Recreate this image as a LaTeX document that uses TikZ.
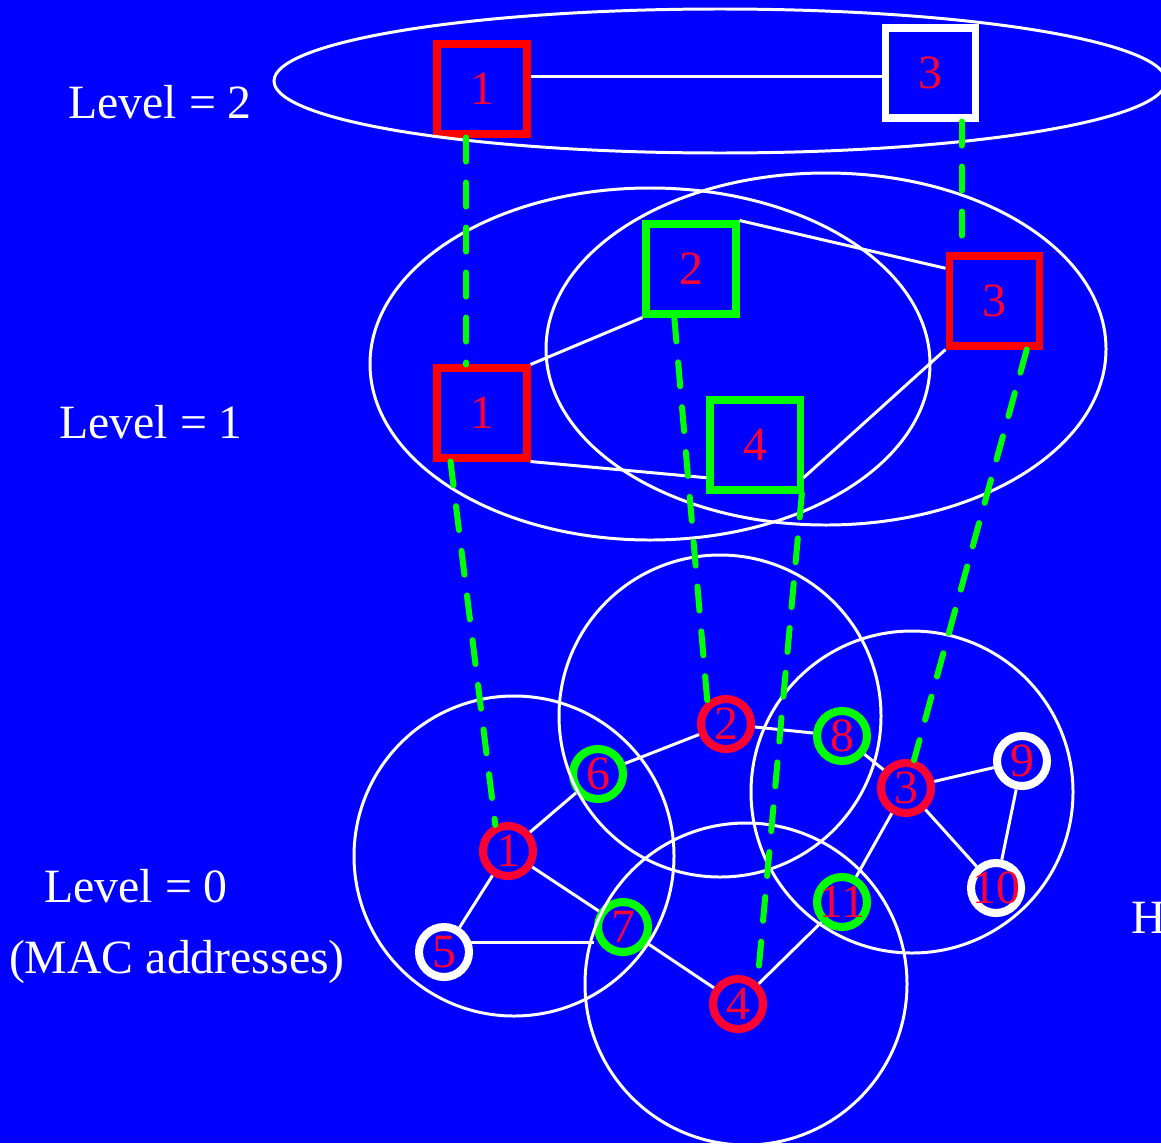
\documentclass[tikz,border=0pt]{standalone}
\usepackage{fontspec}
\setmainfont{Liberation Serif}
\definecolor{fond}{RGB}{0,0,255}
\definecolor{cramoisi}{RGB}{255,0,51}
\definecolor{vert}{RGB}{0,255,0}

\begin{document}
\begin{tikzpicture}[
	boite/.style={draw=#1,line width=2pt,minimum width=0.9cm,minimum height=0.9cm,inner sep=0pt,text=cramoisi,font=\fontsize{13.6}{16}\selectfont},
	rond/.style={circle,draw=#1,line width=2.3pt,minimum size=0.5cm,inner sep=0pt,text=cramoisi,font=\fontsize{13.6}{16}\selectfont},
	texte/.style={text=white,font=\fontsize{13.6}{16}\selectfont},
	lien/.style={draw=white,line width=0.85pt},
	zone/.style={draw=white,line width=0.85pt},
	tiret/.style={draw=vert,line width=1.7pt,line cap=round,dash pattern=on 0.24cm off 0.21cm}]
	%
	% Fond et cadre
	\def\cadreX{11.61}
	\def\cadreY{-11.43}
	\fill[fond] (0,0) rectangle (\cadreX,\cadreY);
	\useasboundingbox (0,0) rectangle (\cadreX,\cadreY);
	%
	% Niveau 2
	\node[boite=red] (l2a) at (4.82,-0.89) {1};
	\node[boite=white] (l2b) at (9.30,-0.73) {3};
	\draw[zone] (7.20,-0.81) ellipse (4.46 and 0.72);
	\draw[lien] (l2a.east |- l2b.184) -- (l2b.184);
	%
	% Niveau 1
	\node[boite=red] (l1a) at (4.82,-4.13) {1};
	\node[boite=vert] (l1b) at (6.91,-2.69) {2};
	\node[boite=red] (l1c) at (9.94,-3.01) {3};
	\node[boite=vert] (l1d) at (7.55,-4.45) {4};
	\draw[zone] (6.50,-3.64) ellipse (2.80 and 1.76);
	\draw[zone] (8.26,-3.49) ellipse (2.80 and 1.76);
	\draw[lien] (l1a.north east) -- (l1b.south west);
	\draw[lien] (l1b.north east) -- (l1c.146);
	\draw[lien] (l1a.south east) -- (l1d.214);
	\draw[lien] (l1c.south west) -- (l1d.326);
	%
	% Niveau 0 (adresses MAC)
	\node[rond=cramoisi] (c1) at (5.08,-8.51) {1};
	\node[rond=cramoisi] (c2) at (7.26,-7.24) {2};
	\node[rond=cramoisi] (c3) at (9.06,-7.88) {3};
	\node[rond=cramoisi] (c4) at (7.38,-10.04) {4};
	\node[rond=white] (c5) at (4.44,-9.52) {5};
	\node[rond=vert] (c6) at (5.98,-7.74) {6};
	\node[rond=vert] (c7) at (6.23,-9.27) {7};
	\node[rond=vert] (c8) at (8.42,-7.36) {8};
	\node[rond=white] (c9) at (10.22,-7.61) {9};
	\node[rond=white] (c10) at (9.96,-8.88) {\makebox[0pt]{10}};
	\node[rond=vert] (c11) at (8.42,-9.02) {\makebox[0pt]{11}};
	\draw[zone] (5.14,-8.56) circle (1.60);
	\draw[zone] (7.20,-7.16) circle (1.61);
	\draw[zone] (9.12,-7.92) circle (1.61);
	\draw[zone] (7.46,-9.84) circle (1.61);
	\draw[lien] (c1) -- (c6);
	\draw[lien] (c6) -- (c2);
	\draw[lien] (c1) -- (c5);
	\draw[lien] (c1) -- (c7);
	\draw[lien] (c5.20) -- (c5.20 -| c7.west);
	\draw[lien] (c7) -- (c4);
	\draw[lien] (c4) -- (c11);
	\draw[lien] (c2) -- (c8);
	\draw[lien] (c8) -- (c3);
	\draw[lien] (c3) -- (c11);
	\draw[lien] (c3) -- (c9);
	\draw[lien] (c3) -- (c10);
	\draw[lien] (c9) -- (c10);
	%
	% Liens entre niveaux
	\draw[tiret] (l2a.252) -- (l2a.252 |- l1a.north);
	\draw[tiret] (l2b.303) -- (l2b.303 |- l1c.north);
	\draw[tiret] (l1a.237) -- (c1.116);
	\draw[tiret] (l1b.251) -- (c2.130);
	\draw[tiret] (l1c.304) -- (c3.74);
	\draw[tiret] (l1d.314) -- (c4.48);
	%
	% Etiquettes
	\node[texte] (niv2) at (1.60,-1.02) {Level = 2};
	\node[texte] (niv1) at (1.51,-4.22) {Level = 1};
	\node[texte] (niv0) at (1.36,-8.86) {Level = 0};
	\node[texte] (mac) at (1.77,-9.62) {(MAC addresses)};
	\node[texte,anchor=west] (hote) at (11.19,-9.18) {H};
\end{tikzpicture}
\end{document}
